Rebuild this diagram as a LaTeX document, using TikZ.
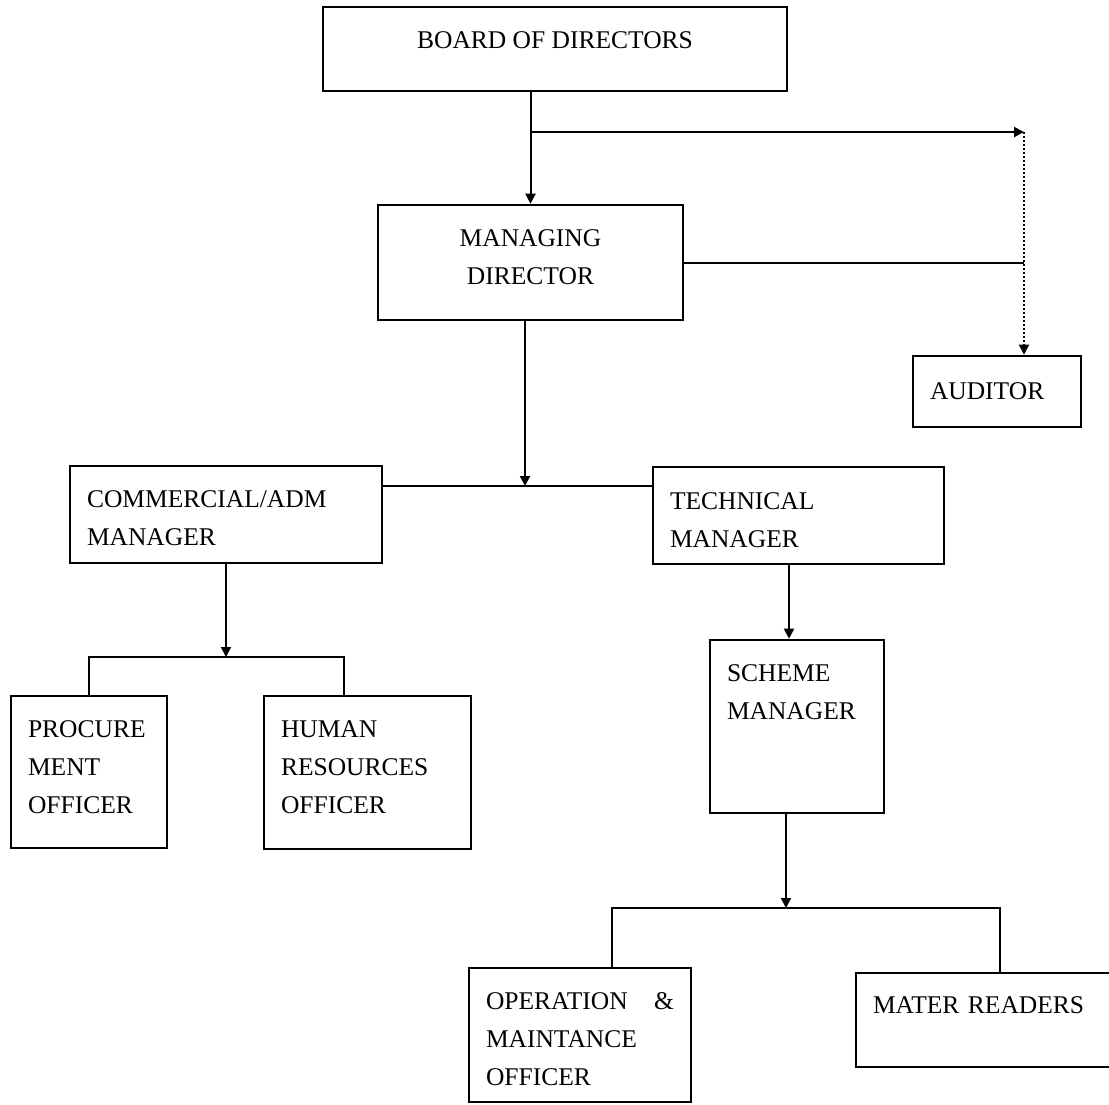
\documentclass[tikz,border=0pt]{standalone}
\usepackage{fontspec}
\setmainfont{Liberation Serif}
\usetikzlibrary{arrows.meta}

\begin{document}
\begin{tikzpicture}[x=0.5pt,y=-0.5pt,>={Triangle[length=5pt,width=5pt]},
                    thick,box node/.style={rectangle, draw, line width=1.3pt, inner ysep=0pt, inner xsep=8.5pt,
                    align=left, font=\fontsize{12.75}{19}\selectfont},
                    link/.style={line width=1pt}]
  \useasboundingbox (0,0) rectangle (1109,1104);

  %Top%
  \node[box node, align=center, minimum width=232pt, minimum height=42pt, text depth=9pt] (1) at (555,49) {BOARD OF DIRECTORS};
  \node[box node, align=center, text width=135.5pt, minimum height=57.5pt, text depth=24pt] (2) at (530.5,262.5) {MANAGING\\DIRECTOR};
  \node[box node, text width=67pt, minimum height=35.5pt] (3) at (997,391.5) {AUDITOR};

  %Managers%
  \node[box node, text width=139pt, minimum height=48.5pt, text depth=15pt] (4) at (226,514.5) {COMMERCIAL/ADM\\MANAGER};
  \node[box node, text width=128.5pt, minimum height=48.5pt, text depth=14pt] (5) at (798.5,515.5) {TECHNICAL\\MANAGER};

  %Officers%
  \node[box node, text width=61pt, minimum height=76pt, text depth=43pt] (6) at (89,772) {PROCURE\\MENT\\OFFICER};
  \node[box node, text width=86.5pt, minimum height=76.5pt, text depth=43pt] (7) at (367.5,772.5) {HUMAN\\RESOURCES\\OFFICER};
  \node[box node, text width=70pt, minimum height=86.5pt, text depth=53.5pt] (8) at (797,726.5) {SCHEME\\MANAGER};
  \node[box node, text width=94pt, minimum height=67pt, text depth=34pt] (9) at (580,1035) {OPERATION\hfill\&\\MAINTANCE\\OFFICER};
  \node[box node, text width=117.5pt, minimum height=47pt, text depth=15pt] (10) at (990.5,1020) {MATER READERS};

  %Junctions%
  \coordinate (a) at (530.5,132);
  \coordinate (b) at (1024,132);
  \coordinate (c) at (525,486);
  \coordinate (d) at (226,657);
  \coordinate (e) at (344,657);
  \coordinate (g) at (786,908);
  \coordinate (h) at (612,908);
  \coordinate (i) at (1000,908);

  %Top links%
  \draw[link,->] (1.south -| 2.north) -- (2.north);
  \draw[link,->] (a) -- (b);
  \draw[link,->,densely dotted] (b) -- (b |- 3.north);
  \draw[link] (2.east) -- (2.east -| b);

  %Managers links%
  \draw[link] (4.east |- c) -- (5.west |- c);
  \draw[link,->] (2.south -| c) -- (c);
  \draw[link,->] (4.south) -- (d);
  \draw[link] (6.north) |- (e) -- (e |- 7.north);
  \draw[link,->] ([xshift=-4pt]5.south -| 8.north) -- ([xshift=-4pt]8.north);

  %Scheme links%
  \draw[link,->] (8.south -| g) -- (g);
  \draw[link] (h |- 9.north) -- (h) -- (i) -- (i |- 10.north);
\end{tikzpicture}
\end{document}
